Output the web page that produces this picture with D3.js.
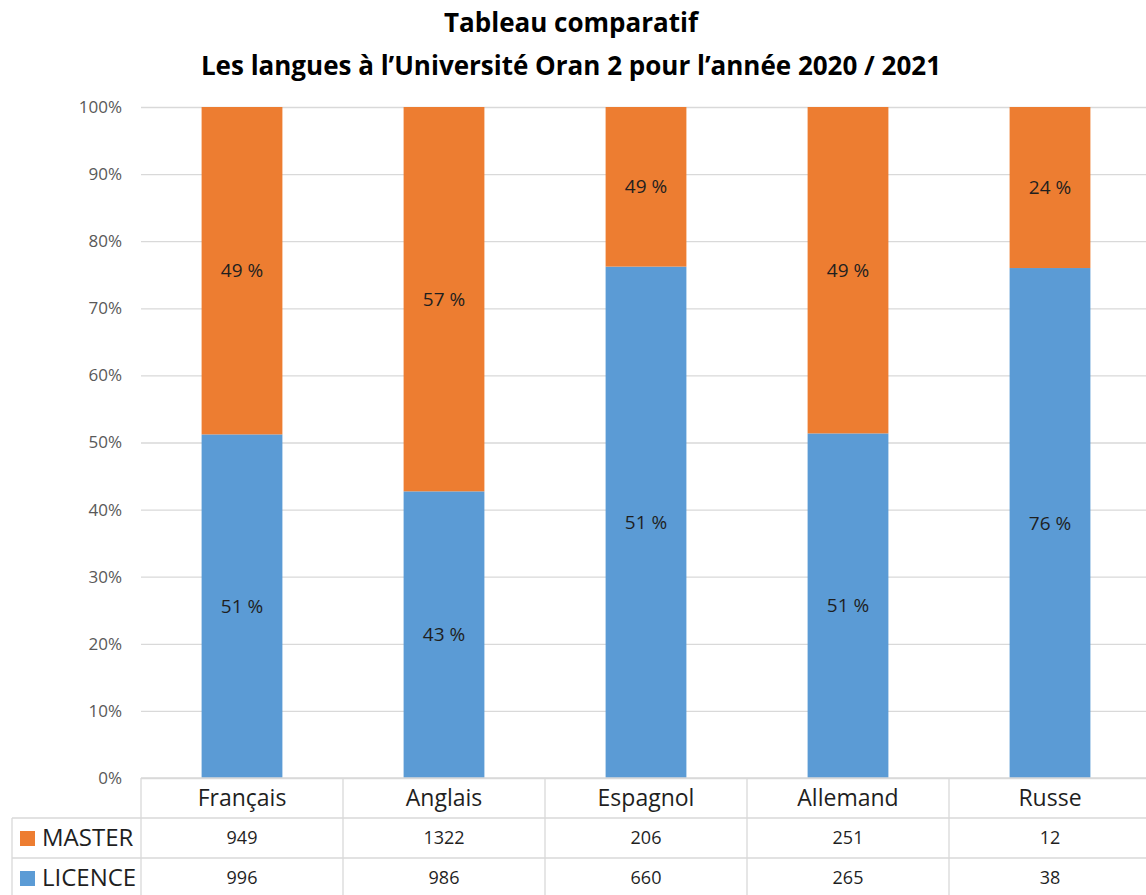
<!DOCTYPE html>
<html>
<head>
<meta charset="utf-8">
<script src="https://cdn.jsdelivr.net/npm/d3@7"></script>
<style>
  body { margin: 0; background: #fff; }
  svg { display: block; font-family: "Open Sans", sans-serif; }
</style>
</head>
<body>
<div id="chart-area"></div>
<script>
// Data
var categories = ["Français", "Anglais", "Espagnol", "Allemand", "Russe"];
var master = [949, 1322, 206, 251, 12];
var licence = [996, 986, 660, 265, 38];
var masterLabels = ["49 %", "57 %", "49 %", "49 %", "24 %"];
var licenceLabels = ["51 %", "43 %", "51 %", "51 %", "76 %"];
var yTicks = [0, 0.1, 0.2, 0.3, 0.4, 0.5, 0.6, 0.7, 0.8, 0.9, 1];
var titleLines = ["Tableau comparatif", "Les langues à l’Université Oran 2 pour l’année 2020 / 2021"];

var W = 1146, H = 895;
var colors = { master: "#ED7D31", licence: "#5B9BD5" };
var gridColor = "#d9d9d9";

var svg = d3.select("#chart-area").append("svg")
    .attr("width", W)
    .attr("height", H);

// Scales
var x = d3.scaleBand()
    .domain(categories)
    .range([141, 1151])
    .paddingInner(0.6)
    .paddingOuter(0.3);
var y = d3.scaleLinear().domain([0, 1]).range([778, 107]);

// Title
svg.append("g").selectAll("text")
    .data(titleLines)
    .enter().append("text")
    .attr("x", 571)
    .attr("y", function(d, i) { return 32 + i * 43; })
    .attr("text-anchor", "middle")
    .attr("font-size", 26)
    .attr("font-weight", "bold")
    .attr("fill", "#000")
    .text(function(d) { return d; });

// Gridlines + y labels
var yAxis = d3.axisLeft(y)
    .tickValues(yTicks)
    .tickFormat(d3.format(".0%"))
    .tickSize(-(W - 141))
    .tickPadding(19);
var yg = svg.append("g")
    .attr("transform", "translate(141,0)")
    .call(yAxis);
yg.select(".domain").remove();
yg.selectAll(".tick line").attr("stroke", gridColor).attr("stroke-width", 1.3);
yg.selectAll(".tick text")
    .attr("fill", "#595959")
    .attr("font-size", 17)
    .attr("font-family", "'Open Sans', sans-serif");

// Stacked bars (100%)
var table = categories.map(function(c, i) {
    return { cat: c, licence: licence[i], master: master[i] };
});
var series = d3.stack()
    .keys(["licence", "master"])
    .offset(d3.stackOffsetExpand)(table);

var layer = svg.append("g").selectAll("g")
    .data(series)
    .enter().append("g")
    .attr("fill", function(d) { return colors[d.key]; });

layer.selectAll("rect")
    .data(function(d) { return d; })
    .enter().append("rect")
    .attr("x", function(d) { return x(d.data.cat); })
    .attr("width", x.bandwidth())
    .attr("y", function(d) { return y(d[1]); })
    .attr("height", function(d) { return y(d[0]) - y(d[1]); });

// Data labels
var labelsByKey = { licence: licenceLabels, master: masterLabels };
layer.selectAll("text")
    .data(function(d) { return d.map(function(p, i) { return { p: p, t: labelsByKey[d.key][i] }; }); })
    .enter().append("text")
    .attr("x", function(d) { return x(d.p.data.cat) + x.bandwidth() / 2; })
    .attr("y", function(d) { return (y(d.p[0]) + y(d.p[1])) / 2; })
    .attr("dy", "0.35em")
    .attr("text-anchor", "middle")
    .attr("font-size", 19)
    .attr("fill", "#1f1f1f")
    .text(function(d) { return d.t; });

// Data table below
var rowTop = 778, rowH = 40;
var step = x.step();
var colLeft = function(c) { return x(c) - x.paddingOuter() * step; };
var tg = svg.append("g").attr("stroke", gridColor).attr("stroke-width", 1.3);

// horizontal lines
tg.append("line").attr("x1", 141).attr("x2", W).attr("y1", rowTop).attr("y2", rowTop);
[1, 2, 3].forEach(function(r) {
    tg.append("line").attr("x1", 12).attr("x2", W)
        .attr("y1", rowTop + r * rowH).attr("y2", rowTop + r * rowH);
});
// vertical lines
categories.forEach(function(c) {
    tg.append("line").attr("x1", colLeft(c)).attr("x2", colLeft(c))
        .attr("y1", rowTop).attr("y2", H);
});
tg.append("line").attr("x1", 12).attr("x2", 12).attr("y1", rowTop + rowH).attr("y2", H);

// category names
svg.append("g").selectAll("text")
    .data(categories)
    .enter().append("text")
    .attr("x", function(d) { return x(d) + x.bandwidth() / 2; })
    .attr("y", rowTop + rowH / 2)
    .attr("dy", "0.35em")
    .attr("text-anchor", "middle")
    .attr("font-size", 23)
    .attr("fill", "#1f1f1f")
    .text(function(d) { return d; });

var rows = [
    { name: "MASTER", values: master, color: colors.master },
    { name: "LICENCE", values: licence, color: colors.licence }
];
rows.forEach(function(row, r) {
    var cy = rowTop + (r + 1) * rowH + rowH / 2;
    svg.append("rect")
        .attr("x", 20).attr("y", cy - 7)
        .attr("width", 15).attr("height", 15)
        .attr("fill", row.color);
    svg.append("text")
        .attr("x", 42).attr("y", cy)
        .attr("dy", "0.35em")
        .attr("font-size", 24)
        .attr("fill", "#1f1f1f")
        .text(row.name);
    svg.append("g").selectAll("text")
        .data(row.values)
        .enter().append("text")
        .attr("x", function(d, i) { return x(categories[i]) + x.bandwidth() / 2; })
        .attr("y", cy)
        .attr("dy", "0.35em")
        .attr("text-anchor", "middle")
        .attr("font-size", 18)
        .attr("fill", "#1f1f1f")
        .text(function(d) { return d; });
});
</script>
</body>
</html>
